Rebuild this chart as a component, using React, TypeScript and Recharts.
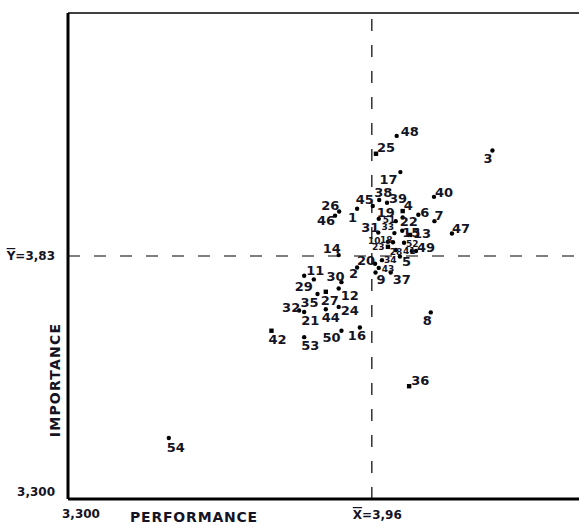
import React from 'react';
import { ScatterChart, Scatter, XAxis, YAxis, ReferenceLine } from 'recharts';

// item numbers and their mean scores (performance = x, importance = y)
const ITEM_IDS = [
  1, 2, 3, 4, 5, 6, 7, 8, 9, 10, 11, 12, 13, 14, 15, 16, 17, 18, 19, 20, 21, 22, 23, 24, 25, 26, 27,
  28, 29, 30, 31, 32, 33, 34, 35, 36, 37, 38, 39, 40, 41, 42, 43, 44, 45, 46, 47, 48, 49, 50, 51, 52, 53, 54,
];
const PERFORMANCE = [
  3.928, 3.928, 4.222, 4.027, 4.021, 4.061, 4.096, 4.088, 3.968, 3.995, 3.813, 3.888, 4.043, 3.888,
  4.026, 3.934, 4.022, 4.006, 3.975, 3.967, 3.813, 4.027, 3.995, 3.888, 3.969, 3.889, 3.86, 4.012,
  3.834, 3.894, 3.974, 3.802, 4.009, 3.982, 3.842, 4.041, 4.001, 3.976, 3.993, 4.095, 4.047, 3.742,
  3.975, 3.86, 3.962, 3.88, 4.134, 4.014, 4.056, 3.894, 4.012, 4.03, 3.813, 3.519,
];
const IMPORTANCE = [
  3.933, 3.805, 4.06, 3.928, 3.829, 3.92, 3.906, 3.707, 3.794, 3.861, 3.787, 3.759, 3.876, 3.832,
  3.885, 3.674, 4.013, 3.86, 3.911, 3.813, 3.708, 3.914, 3.85, 3.719, 4.053, 3.927, 3.752, 3.843,
  3.779, 3.773, 3.881, 3.711, 3.88, 3.821, 3.747, 3.546, 3.794, 3.952, 3.946, 3.959, 3.841, 3.667,
  3.804, 3.714, 3.939, 3.918, 3.879, 4.092, 3.841, 3.667, 3.906, 3.859, 3.653, 3.433,
];
const MEAN_X = 3.96;
const MEAN_Y = 3.83;
const AXIS_MIN = 3.3;

const data = ITEM_IDS.map((id, i) => ({ id, x: PERFORMANCE[i], y: IMPORTANCE[i] }));

// label placement next to each dot [dx, dy]
const LABEL_OFFSET: Record<number, [number, number]> = {
  1: [-9, 13], 2: [-8, 11], 3: [-9, 12], 4: [1, -1], 5: [2, 10], 6: [2, 2], 7: [0, -1], 8: [-8, 13],
  9: [1, 11], 10: [-20, 2], 11: [2, -1], 12: [2, 11], 13: [3, 3], 14: [-16, -2], 15: [0, 6],
  16: [-12, 12], 17: [-21, 12], 18: [-13, 1], 19: [-2, -2], 20: [-18, 1], 21: [-3, 13], 22: [-3, 9],
  23: [-16, 3], 24: [2, 8], 25: [1, -2], 26: [-18, -2], 27: [-5, 13], 28: [-6, 5], 29: [-19, 12],
  30: [-15, -1], 31: [-17, -1], 32: [-17, 1], 33: [-13, -3], 34: [2, 3], 35: [-17, 13], 36: [2, -1],
  37: [2, 11], 38: [-5, -3], 39: [2, 0], 40: [1, 0], 41: [-9, 3], 42: [-3, 13], 43: [3, 4],
  44: [-4, 13], 45: [-17, -2], 46: [-18, 9], 47: [0, -1], 48: [4, 0], 49: [1, 1], 50: [-19, 11],
  51: [-13, 2], 52: [2, 4], 53: [-3, 13], 54: [-2, 14],
};
const SMALL_LABELS = new Set([10, 18, 23, 51, 33, 52, 41, 28, 34, 43]);
const SQUARE_DOTS = new Set([42, 27, 13, 36, 25, 23, 4]);

const FONT = '"DejaVu Sans", Verdana, sans-serif';
const INK = '#141424';

const PointShape = (props: any) => {
  const { cx, cy, payload } = props;
  const id = payload.id;
  const [dx, dy] = LABEL_OFFSET[id] || [2, -2];
  const small = SMALL_LABELS.has(id);
  return (
    <g>
      {SQUARE_DOTS.has(id) ? (
        <rect x={cx - 2.2} y={cy - 2.2} width={4.4} height={4.4} fill="#000" />
      ) : (
        <circle cx={cx} cy={cy} r={2.2} fill="#000" />
      )}
      <text
        x={cx + dx}
        y={cy + dy}
        fontFamily={FONT}
        fontWeight="bold"
        fontSize={small ? 9 : 13}
        fill={INK}
      >
        {id}
      </text>
    </g>
  );
};

const XTick = (props: any) => {
  const { x, y, payload } = props;
  if (payload.value === AXIS_MIN) {
    return (
      <text x={x - 6} y={y + 11} fontFamily={FONT} fontWeight="bold" fontSize={12} fill={INK}>
        3,300
      </text>
    );
  }
  return (
    <text x={x - 19} y={y + 12} fontFamily={FONT} fontWeight="bold" fontSize={12} fill={INK}>
      <tspan style={{ textDecoration: 'overline' }}>X</tspan>=3,96
    </text>
  );
};

const YTick = (props: any) => {
  const { x, y, payload } = props;
  if (payload.value === AXIS_MIN) {
    return (
      <text x={x - 5} y={y - 3} textAnchor="end" fontFamily={FONT} fontWeight="bold" fontSize={12} fill={INK}>
        3,300
      </text>
    );
  }
  return (
    <text x={x - 5} y={y + 4} textAnchor="end" fontFamily={FONT} fontWeight="bold" fontSize={12} fill={INK}>
      <tspan style={{ textDecoration: 'overline' }}>Y</tspan>=3,83
    </text>
  );
};

export default function App() {
  return (
    <div style={{ position: 'absolute', left: 0, top: 0, width: 579, height: 527, background: '#fff' }}>
      <ScatterChart width={579} height={527} margin={{ top: 13, right: 0, bottom: 0, left: 0 }}>
        <XAxis
          type="number"
          dataKey="x"
          domain={[AXIS_MIN, 4.41]}
          ticks={[AXIS_MIN, MEAN_X]}
          tick={<XTick />}
          tickLine={false}
          axisLine={{ stroke: '#000', strokeWidth: 3 }}
          height={28}
          allowDataOverflow
        />
        <YAxis
          type="number"
          dataKey="y"
          domain={[AXIS_MIN, 4.36]}
          ticks={[AXIS_MIN, MEAN_Y]}
          tick={<YTick />}
          tickLine={false}
          axisLine={{ stroke: '#000', strokeWidth: 3 }}
          width={68}
          allowDataOverflow
        />
        <ReferenceLine y={4.36} stroke="#000" strokeWidth={1.5} />
        <ReferenceLine x={MEAN_X} stroke="#000" strokeWidth={1.2} strokeDasharray="12 14" />
        <ReferenceLine y={MEAN_Y} stroke="#000" strokeWidth={1.2} strokeDasharray="12 14" />
        <Scatter data={data} shape={<PointShape />} isAnimationActive={false} />
      </ScatterChart>
      <svg
        width={579}
        height={527}
        style={{ position: 'absolute', left: 0, top: 0, pointerEvents: 'none' }}
      >
        <text x={194} y={522} textAnchor="middle" fontFamily={FONT} fontWeight="bold" fontSize={14} letterSpacing={0.8} fill={INK}>
          PERFORMANCE
        </text>
        <text
          x={60}
          y={380}
          textAnchor="middle"
          transform="rotate(-90 60 380)"
          fontFamily={FONT}
          fontWeight="bold"
          fontSize={14}
          letterSpacing={1.2}
          fill={INK}
        >
          IMPORTANCE
        </text>
      </svg>
    </div>
  );
}
